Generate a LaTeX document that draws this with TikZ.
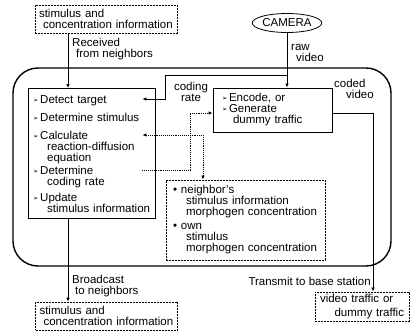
\documentclass[tikz,border=0pt]{standalone}
\usepackage{fontspec}
\setmainfont{Liberation Sans}
\newfontfamily\symfont{DejaVu Sans}
\usetikzlibrary{arrows.meta,positioning,shapes.geometric}

\newcommand\bul{\makebox[7pt][l]{\raisebox{1pt}{\symfont\fontsize{6.5}{6.5}\selectfont ➢}}}
\newcommand\dotb{\makebox[8pt][l]{•}}
\newcommand\ind[1][14pt]{\hspace*{#1}}

\begin{document}
\begin{tikzpicture}[
      x=1pt, y=-1pt,
      font=\fontsize{11.5}{11}\selectfont,
      >={Latex[length=4pt,width=3.5pt]},
      box/.style={draw, line width=0.9pt, inner sep=0pt},
      infobox/.style={draw, line width=0.9pt, dash pattern=on 2pt off 1pt, align=left, inner ysep=0pt},
      itm/.style={anchor=north west, align=left, text width=120pt, inner sep=1pt},
      lbl/.style={align=left, inner sep=0pt},
      arr/.style={->, line width=0.7pt},
      varr/.style={->, line width=1pt},
      darr/.style={->, densely dotted, line width=0.9pt}
    ]
    \useasboundingbox (0,0) rectangle (410,332);
    % sensor node and its parts
    \node[box, minimum width=378pt, minimum height=198pt, rounded corners=25pt, line width=1.4pt] (sensor) at (202,167) {};
    \node[box, anchor=north west, minimum width=127pt, minimum height=130pt] (proc) at (28,88) {};
    \node[itm] (detect) at (32,94) {\bul Detect target};
    \node[itm] (stim) at (32,112) {\bul Determine stimulus};
    \node[itm] (calc) at (32,130) {\bul Calculate\\\ind reaction-diffusion\\\ind equation};
    \node[itm] (rate) at (32,165) {\bul Determine\\\ind coding rate};
    \node[itm] (update) at (32,192) {\bul Update\\\ind stimulus information};
    \node[box, minimum width=119pt, minimum height=44pt, text width=101pt, inner xsep=9pt, align=left] (encode) at (272.5,110) {\bul Encode, or\\\bul Generate\\\ind[11pt]dummy traffic};
    \node[infobox, minimum width=159pt, minimum height=80pt, text width=145pt, inner xsep=7pt] (store) at (245.5,220) {\dotb neighbor's\\\ind[13pt]stimulus information\\\ind[13pt]morphogen concentration\\[3pt]\dotb own\\\ind[13pt]stimulus\\\ind[13pt]morphogen concentration};
    \node[draw, ellipse, line width=0.8pt, minimum width=67pt, minimum height=19pt, inner sep=0pt] (camera) at (287,23) {CAMERA};
    % exchanged data
    \node[infobox, minimum width=142pt, minimum height=28pt, text width=134pt, inner xsep=4pt] (nbrin) at (106,19) {stimulus and\\\ind[4pt]concentration information};
    \node[infobox, minimum width=142pt, minimum height=28pt, text width=134pt, inner xsep=4pt] (nbrout) at (106.5,316) {stimulus and\\\ind[4pt]concentration information};
    \node[infobox, minimum width=94pt, minimum height=29pt, text width=84pt, inner xsep=5pt, font=\fontsize{11.5}{14}\selectfont] (vid) at (362,306.5) {video traffic or\\\hspace*{\fill}dummy traffic};
    % labels
    \node[lbl, anchor=west] (rcvlbl) at (72,49) {Received\\\ind[4pt]from neighbors};
    \node[lbl, anchor=west] (rawlbl) at (291,52.5) {raw\\\ind[5pt]video};
    \node[lbl, align=center] (ratelbl) at (191,92) {coding\\rate};
    \node[lbl, anchor=west] (codedlbl) at (334,89) {coded\\\ind[12pt]video};
    \node[lbl, anchor=east] (txlbl) at (371,281) {Transmit to base station};
    \node[lbl, anchor=west] (bclbl) at (72,286) {Broadcast\\\ind[3pt]to neighbors};
    % bends
    \coordinate (col) at (68,0);
    \coordinate (tap) at (165,75);
    \coordinate (rbend) at (190,113);
    \coordinate (ibend) at (203,0);
    \coordinate (vcol) at (373,0);
    % connectors
    \draw[arr] (nbrin.south -| col) -- (proc.north -| col);
    \draw[arr] (proc.south -| col) -- (nbrout.north -| col);
    \draw[varr] (camera.south) -- (camera.south |- encode.north);
    \draw[varr] (camera.south |- tap) -- (tap) |- ([xshift=-12pt,yshift=-5pt]detect.north east);
    \draw[darr] ([xshift=-12pt,yshift=-5pt]rate.north east) -| (rbend) -- (rbend -| encode.west);
    \draw[darr, <->] ([xshift=-12pt,yshift=-5pt]calc.north east) -| (store.north -| ibend);
    \draw[arr] ([yshift=-3pt]encode.east) -| (vid.north -| vcol);
  \end{tikzpicture}
\end{document}
